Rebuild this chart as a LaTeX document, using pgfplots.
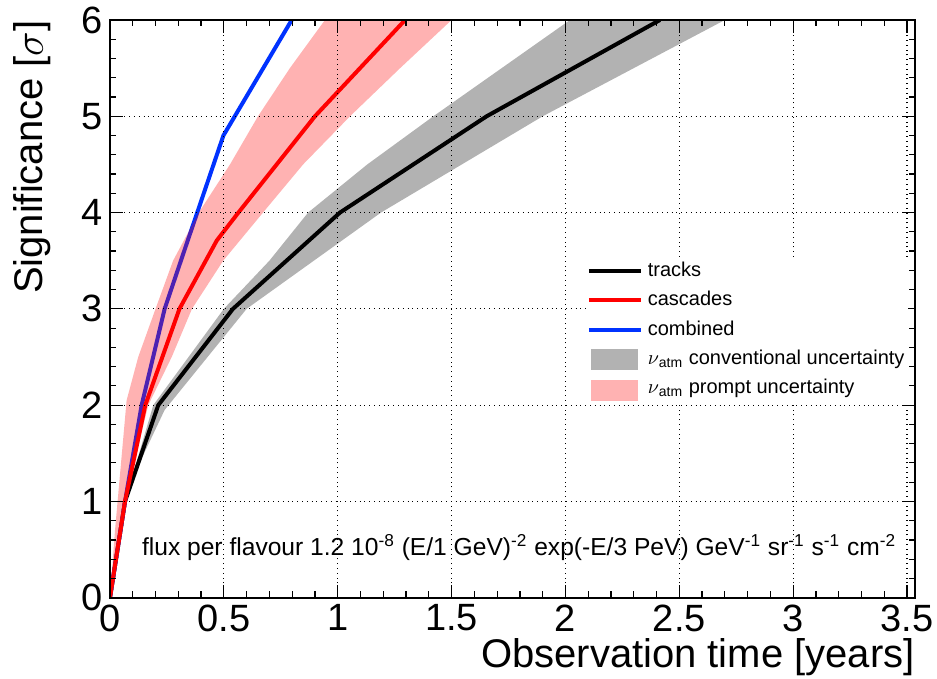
\documentclass[border=0pt]{standalone}
\usepackage{fontspec}
\setmainfont{Liberation Sans}
\usepackage{pgfplots}
\pgfplotsset{compat=1.18}
\definecolor{rootblue}{RGB}{0,50,255}
\definecolor{bandgrey}{RGB}{178,178,178}
\definecolor{bandpink}{RGB}{255,178,178}

\begin{document}
\begin{tikzpicture}
\begin{axis}[
  scale only axis,
  width=402.5pt, height=288.85pt,
  xmin=0, xmax=3.535, ymin=0, ymax=6,
  xtick={0,0.5,...,3.5}, ytick={0,1,...,6},
  minor x tick num=4, minor y tick num=4,
  tick align=inside,
  xtick pos=both, ytick pos=both,
  major tick length=6.5pt, minor tick length=3.25pt,
  tick style={black, line width=0.6pt},
  axis line style={line width=1pt},
  grid=major,
  major grid style={black, dotted, line width=0.6pt},
  axis on top,
  /pgf/number format/assume math mode=true,
  /pgf/number format/fixed,
  ticklabel style={font=\fontsize{19}{19}\selectfont},
  xlabel={Observation time [years]},
  ylabel={Significance [$\sigma$]},
  label style={font=\fontsize{20}{20}\selectfont},
  xlabel style={at={(rel axis cs:1,0)}, anchor=base east, yshift=-34.7pt, inner sep=0pt},
  ylabel style={at={([xshift=-33.5pt]rel axis cs:0,1)}, anchor=base east, inner sep=0pt},
  legend style={at={(axis cs:2.092,3.54)}, anchor=north west, fill=white, draw=none,
    font=\fontsize{10}{12}\selectfont, inner sep=0pt, row sep=1.2pt, column sep=1pt,
    nodes={inner sep=1.5pt, text height=8pt, text depth=2.5pt}},
  legend cell align=left,
]
% nu_atm conventional band (tracks)
\addplot[fill=bandgrey, draw=none, forget plot] coordinates {
  (0,0) (0.066,1) (0.19,2.0) (0.50,3) (0.70,3.5) (0.87,4) (1.13,4.5) (1.42,5) (2.02,6)
  (2.70,6) (1.90,5) (1.19,4) (0.60,3) (0.24,1.95) (0.15,1.5) (0.066,1) (0,0)
} -- cycle;
% tracks
\addplot[black, line width=2pt, forget plot] coordinates {
  (0,0) (0.066,1) (0.212,2) (0.54,3) (1.01,4) (1.654,5) (2.415,6)
};
% combined
\addplot[rootblue, line width=2pt, forget plot] coordinates {
  (0,0) (0.066,1) (0.139,2) (0.24,3) (0.33,3.63) (0.498,4.8) (0.798,6)
};
% nu_atm prompt band (cascades)
\addplot[fill=red, fill opacity=0.3, draw=none, forget plot] coordinates {
  (0,0) (0.022,0.7) (0.073,2.05) (0.124,2.5) (0.2,3) (0.277,3.5) (0.39,4)
  (0.527,4.5) (0.65,5) (0.79,5.5) (0.944,6)
  (1.50,6) (1.274,5.5) (1.054,5) (0.848,4.5) (0.672,4) (0.497,3.5) (0.36,3)
  (0.271,2.5) (0.168,2) (0.117,1.5) (0.066,1) (0,0)
} -- cycle;
% cascades
\addplot[red, line width=2pt, forget plot] coordinates {
  (0,0) (0.066,1) (0.155,2) (0.305,3) (0.469,3.71) (0.564,4) (0.9,5) (1.296,6)
};

\node[anchor=base west, inner sep=0pt, font=\fontsize{12.3}{14}\selectfont]
  at (axis cs:0.139,0.443)
  {flux per flavour 1.2 10\textsuperscript{-8} (E/1 GeV)\textsuperscript{-2} exp(-E/3 PeV) GeV\textsuperscript{-1} sr\textsuperscript{-1} s\textsuperscript{-1} cm\textsuperscript{-2}};

\addlegendimage{legend image code/.code={\draw[black, line width=2pt] (0pt,0pt) -- (26pt,0pt);}}
\addlegendentry{tracks}
\addlegendimage{legend image code/.code={\draw[red, line width=2pt] (0pt,0pt) -- (26pt,0pt);}}
\addlegendentry{cascades}
\addlegendimage{legend image code/.code={\draw[rootblue, line width=2pt] (0pt,0pt) -- (26pt,0pt);}}
\addlegendentry{combined}
\addlegendimage{legend image code/.code={\fill[bandgrey] (1.5pt,-5pt) rectangle (24.5pt,5pt);}}
\addlegendentry{$\nu$\textsubscript{atm} conventional uncertainty}
\addlegendimage{legend image code/.code={\fill[bandpink] (1.5pt,-6pt) rectangle (24.5pt,4pt);}}
\addlegendentry{$\nu$\textsubscript{atm} prompt uncertainty}
\end{axis}
\pgfresetboundingbox
\path[use as bounding box] ([shift={(-55pt,-40.65pt)}]current axis.south west)
  rectangle ([shift={(11pt,10pt)}]current axis.north east);
\end{tikzpicture}
\end{document}
